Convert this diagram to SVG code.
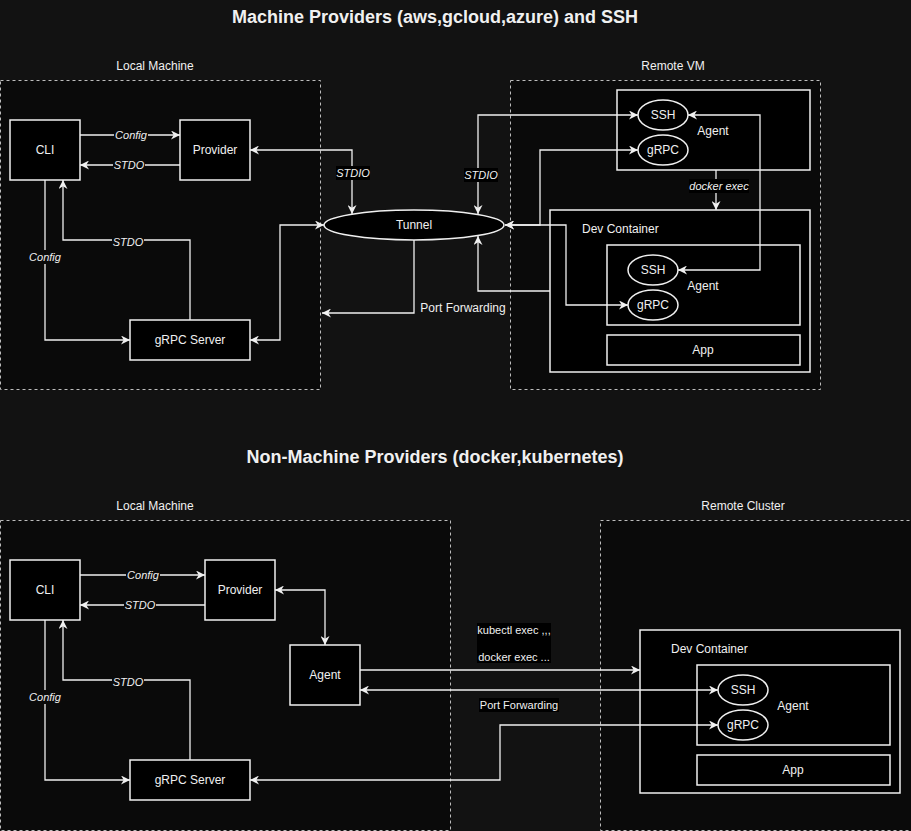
<svg xmlns="http://www.w3.org/2000/svg" width="911" height="831" viewBox="0 0 911 831">
<defs>
<marker id="arr" viewBox="0 0 10 10" refX="10" refY="5" markerWidth="9" markerHeight="9" markerUnits="userSpaceOnUse" orient="auto-start-reverse">
<path d="M0,0 L10,5 L0,10 L3,5 z" fill="#f0f0f0"/>
</marker>
<style>
.bg{fill:#121212}
.cont{fill:#0a0a0a;stroke:#bdbdbd;stroke-width:1;stroke-dasharray:3,3}
.node{fill:#000;stroke:#f0f0f0;stroke-width:1.5}
.t{font-family:"Liberation Sans",Arial,sans-serif;font-size:12px;fill:#f0f0f0;text-anchor:middle}
.tl{text-anchor:start}
.h{font-family:"Liberation Sans",Arial,sans-serif;font-size:18px;font-weight:bold;fill:#f0f0f0;text-anchor:middle}
.e{fill:none;stroke:#f0f0f0;stroke-width:1.3}
.one{marker-end:url(#arr)}
.two{marker-start:url(#arr);marker-end:url(#arr)}
.lbl{font-family:"Liberation Sans",Arial,sans-serif;font-size:11px;font-style:italic;fill:#f0f0f0;text-anchor:middle}
.lb{fill:#0a0a0a}
.lk{fill:#000}
</style>
</defs>
<rect class="bg" x="0" y="0" width="911" height="831"/>
<text class="h" x="435" y="23">Machine Providers (aws,gcloud,azure) and SSH</text>
<text class="h" x="435" y="463">Non-Machine Providers (docker,kubernetes)</text>

<g id="top-local">
<rect class="cont" x="0.5" y="80.5" width="320" height="309"/>
<text class="t" x="155" y="70">Local Machine</text>
</g>
<g id="top-remote">
<rect class="cont" x="510.5" y="80.5" width="310" height="309"/>
<text class="t" x="673" y="70">Remote VM</text>
</g>
<g id="cli1"><rect class="node" x="10" y="120" width="70" height="60"/><text class="t" x="45" y="154">CLI</text></g>
<g id="provider1"><rect class="node" x="180" y="120" width="70" height="60"/><text class="t" x="215" y="154">Provider</text></g>
<g id="grpcserver1"><rect class="node" x="130" y="320" width="120" height="40"/><text class="t" x="190" y="344">gRPC Server</text></g>
<g id="tunnel"><ellipse class="node" cx="414" cy="225" rx="90" ry="15"/><text class="t" x="414" y="229">Tunnel</text></g>
<g id="agent-vm"><rect class="node" x="617" y="90" width="193" height="80"/><text class="t" x="713" y="135">Agent</text></g>
<g id="ssh-vm"><ellipse class="node" cx="663" cy="115" rx="25" ry="15"/><text class="t" x="663" y="119">SSH</text></g>
<g id="grpc-vm"><ellipse class="node" cx="663" cy="150" rx="25" ry="15"/><text class="t" x="663" y="154">gRPC</text></g>
<g id="devcontainer1"><rect class="node" x="550" y="210" width="260" height="162"/><text class="t tl" x="582" y="233">Dev Container</text></g>
<g id="agent-dc1"><rect class="node" x="607" y="245" width="193" height="80"/><text class="t" x="703" y="290">Agent</text></g>
<g id="ssh-dc1"><ellipse class="node" cx="653" cy="270" rx="25" ry="15"/><text class="t" x="653" y="274">SSH</text></g>
<g id="grpc-dc1"><ellipse class="node" cx="653" cy="305" rx="25" ry="15"/><text class="t" x="653" y="309">gRPC</text></g>
<g id="app1"><rect class="node" x="607" y="335" width="193" height="30"/><text class="t" x="703" y="354">App</text></g>

<g id="bottom-local">
<rect class="cont" x="0.5" y="520.5" width="450" height="310"/>
<text class="t" x="155" y="510">Local Machine</text>
</g>
<g id="bottom-remote">
<rect class="cont" x="600.5" y="520.5" width="311" height="310"/>
<text class="t" x="743" y="510">Remote Cluster</text>
</g>
<g id="cli2"><rect class="node" x="10" y="560" width="70" height="60"/><text class="t" x="45" y="594">CLI</text></g>
<g id="provider2"><rect class="node" x="205" y="560" width="70" height="60"/><text class="t" x="240" y="594">Provider</text></g>
<g id="agent-local"><rect class="node" x="290" y="645" width="70" height="60"/><text class="t" x="325" y="679">Agent</text></g>
<g id="grpcserver2"><rect class="node" x="130" y="760" width="120" height="40"/><text class="t" x="190" y="784">gRPC Server</text></g>
<g id="devcontainer2"><rect class="node" x="640" y="630" width="260" height="163"/><text class="t tl" x="671" y="653">Dev Container</text></g>
<g id="agent-dc2"><rect class="node" x="697" y="665" width="193" height="80"/><text class="t" x="793" y="710">Agent</text></g>
<g id="ssh-dc2"><ellipse class="node" cx="743" cy="690" rx="25" ry="15"/><text class="t" x="743" y="694">SSH</text></g>
<g id="grpc-dc2"><ellipse class="node" cx="743" cy="725" rx="25" ry="15"/><text class="t" x="743" y="729">gRPC</text></g>
<g id="app2"><rect class="node" x="697" y="755" width="193" height="30"/><text class="t" x="793" y="774">App</text></g>

<g id="connectors">
<path class="e one" d="M80,135 H180"/>
<path class="e one" d="M180,165 H80"/>
<path class="e one" d="M190,320 V240 H63 V180"/>
<path class="e one" d="M45,180 V340 H130"/>
<path class="e two" d="M250,340 H280 V225 H324"/>
<path class="e two" d="M250,150 H352 V214"/>
<path class="e two" d="M478,214 V115 H638"/>
<path class="e two" d="M638,150 H540 V225 H505"/>
<path class="e two" d="M505,225 H566 V305 H628"/>
<path class="e one" d="M550,291 H478 V236"/>
<path class="e one" d="M414,240 V313 H322"/>
<path class="e one" d="M716,170 V210"/>
<path class="e two" d="M688,115 H760 V270 H678"/>

<path class="e one" d="M80,575 H205"/>
<path class="e one" d="M205,605 H80"/>
<path class="e two" d="M275,590 H325 V645"/>
<path class="e one" d="M190,760 V680 H63 V620"/>
<path class="e one" d="M45,620 V780 H130"/>
<path class="e one" d="M360,670 H640"/>
<path class="e two" d="M360,690 H718"/>
<path class="e two" d="M250,780 H500 V725 H718"/>

<rect class="lb" x="114" y="128" width="34" height="14"/><text class="lbl" x="131" y="139">Config</text>
<rect class="lb" x="113" y="158" width="32" height="14"/><text class="lbl" x="129" y="169">STDO</text>
<rect class="lb" x="112" y="235" width="32" height="14"/><text class="lbl" x="128" y="246">STDO</text>
<rect class="lb" x="28" y="250" width="34" height="14"/><text class="lbl" x="45" y="261">Config</text>
<rect class="lk" x="336" y="166" width="34" height="14"/><text class="lbl" x="353" y="177">STDIO</text>
<rect class="lk" x="464" y="168" width="34" height="14"/><text class="lbl" x="481" y="179">STDIO</text>
<rect class="lk" x="689" y="179" width="60" height="14"/><text class="lbl" x="719" y="190">docker exec</text>
<text class="t" x="463" y="312" style="font-size:12px">Port Forwarding</text>

<rect class="lb" x="126" y="568" width="34" height="14"/><text class="lbl" x="143" y="579">Config</text>
<rect class="lb" x="124" y="598" width="32" height="14"/><text class="lbl" x="140" y="609">STDO</text>
<rect class="lb" x="112" y="675" width="32" height="14"/><text class="lbl" x="128" y="686">STDO</text>
<rect class="lb" x="28" y="690" width="34" height="14"/><text class="lbl" x="45" y="701">Config</text>
<rect class="lk" x="477" y="623" width="74" height="40"/>
<text class="t" x="514" y="634" style="font-size:11px">kubectl exec ,,,</text>
<text class="t" x="514" y="661" style="font-size:11px">docker exec ...</text>
<rect class="lk" x="479" y="698" width="80" height="14"/>
<text class="t" x="519" y="709" style="font-size:11px">Port Forwarding</text>
</g>
</svg>
